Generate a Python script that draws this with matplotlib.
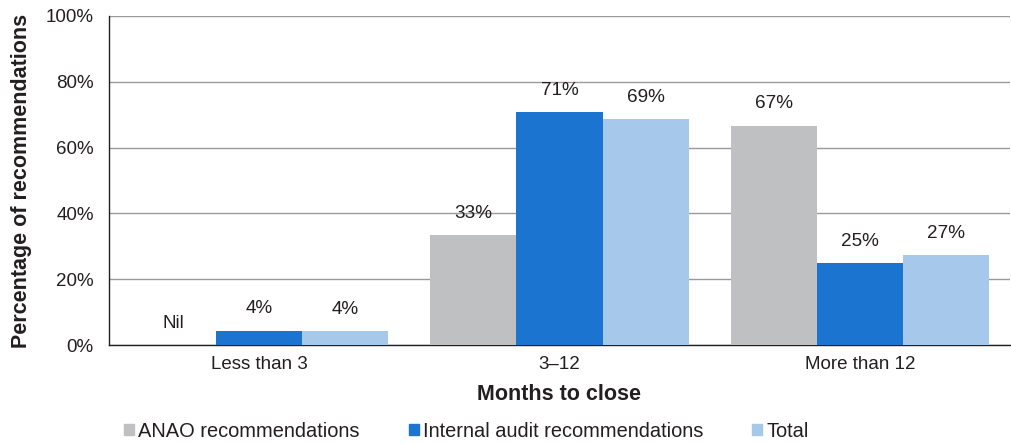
import numpy as np
import matplotlib
matplotlib.use("Agg")
import matplotlib.pyplot as plt
from matplotlib.patches import Rectangle

plt.rcParams['font.family'] = ['Liberation Sans', 'DejaVu Sans']

categories = ["Less than 3", "3\u201312", "More than 12"]
series_names = ["ANAO recommendations", "Internal audit recommendations", "Total"]
anao = [0, 33.4, 66.7]
internal = [4.4, 70.8, 25.0]
total = [4.2, 68.6, 27.4]
colors = ["#BFC0C2", "#1B75D0", "#A6C8EB"]
txt = "#231F20"

fig = plt.figure(figsize=(10.12, 4.43), dpi=100)
ax = fig.add_axes([0.1077, 0.2212, 0.8903, 0.7427])

x = np.arange(len(categories))
w = 0.287
for i, (vals, c) in enumerate(zip([anao, internal, total], colors)):
    pos = x + (i - 1) * w
    ax.bar(pos, vals, width=w, color=c, zorder=3)
    for p, v in zip(pos, vals):
        label = "Nil" if v == 0 else f"{v:.0f}%"
        ax.annotate(label, (p, v), xytext=(0, 9.5), textcoords="offset points",
                    ha="center", va="bottom", fontsize=13.6, color=txt)

ax.set_xlim(-0.5, 2.5)
ax.set_ylim(0, 100)
ax.set_yticks(range(0, 101, 20))
ax.set_yticklabels([f"{t}%" for t in range(0, 101, 20)])
ax.set_xticks(x)
ax.set_xticklabels(categories)
ax.tick_params(axis="both", length=0, labelsize=13.5, colors=txt)
ax.tick_params(axis="y", pad=11)
ax.tick_params(axis="x", pad=8)
ax.grid(axis="y", color="#9A9A9A", lw=1, zorder=0)
for s in ["top", "right"]:
    ax.spines[s].set_visible(False)
for s in ["left", "bottom"]:
    ax.spines[s].set_color("#231F20")
    ax.spines[s].set_linewidth(1)

ax.set_ylabel("Percentage of recommendations", fontsize=15.5, fontweight="bold",
              color=txt, labelpad=10)
ax.set_xlabel("Months to close", fontsize=15.5, fontweight="bold", color=txt, labelpad=8)

handles = [Rectangle((0, 0), 1, 1, color=c) for c in colors]
fig.legend(handles, series_names, loc="center left", bbox_to_anchor=(0.113, 0.027),
           ncol=3, frameon=False, fontsize=14.4, handlelength=0.5, handleheight=0.5,
           handletextpad=0.2, columnspacing=2.45, borderpad=0, labelcolor=txt)

fig.savefig("out.png", dpi=100)
